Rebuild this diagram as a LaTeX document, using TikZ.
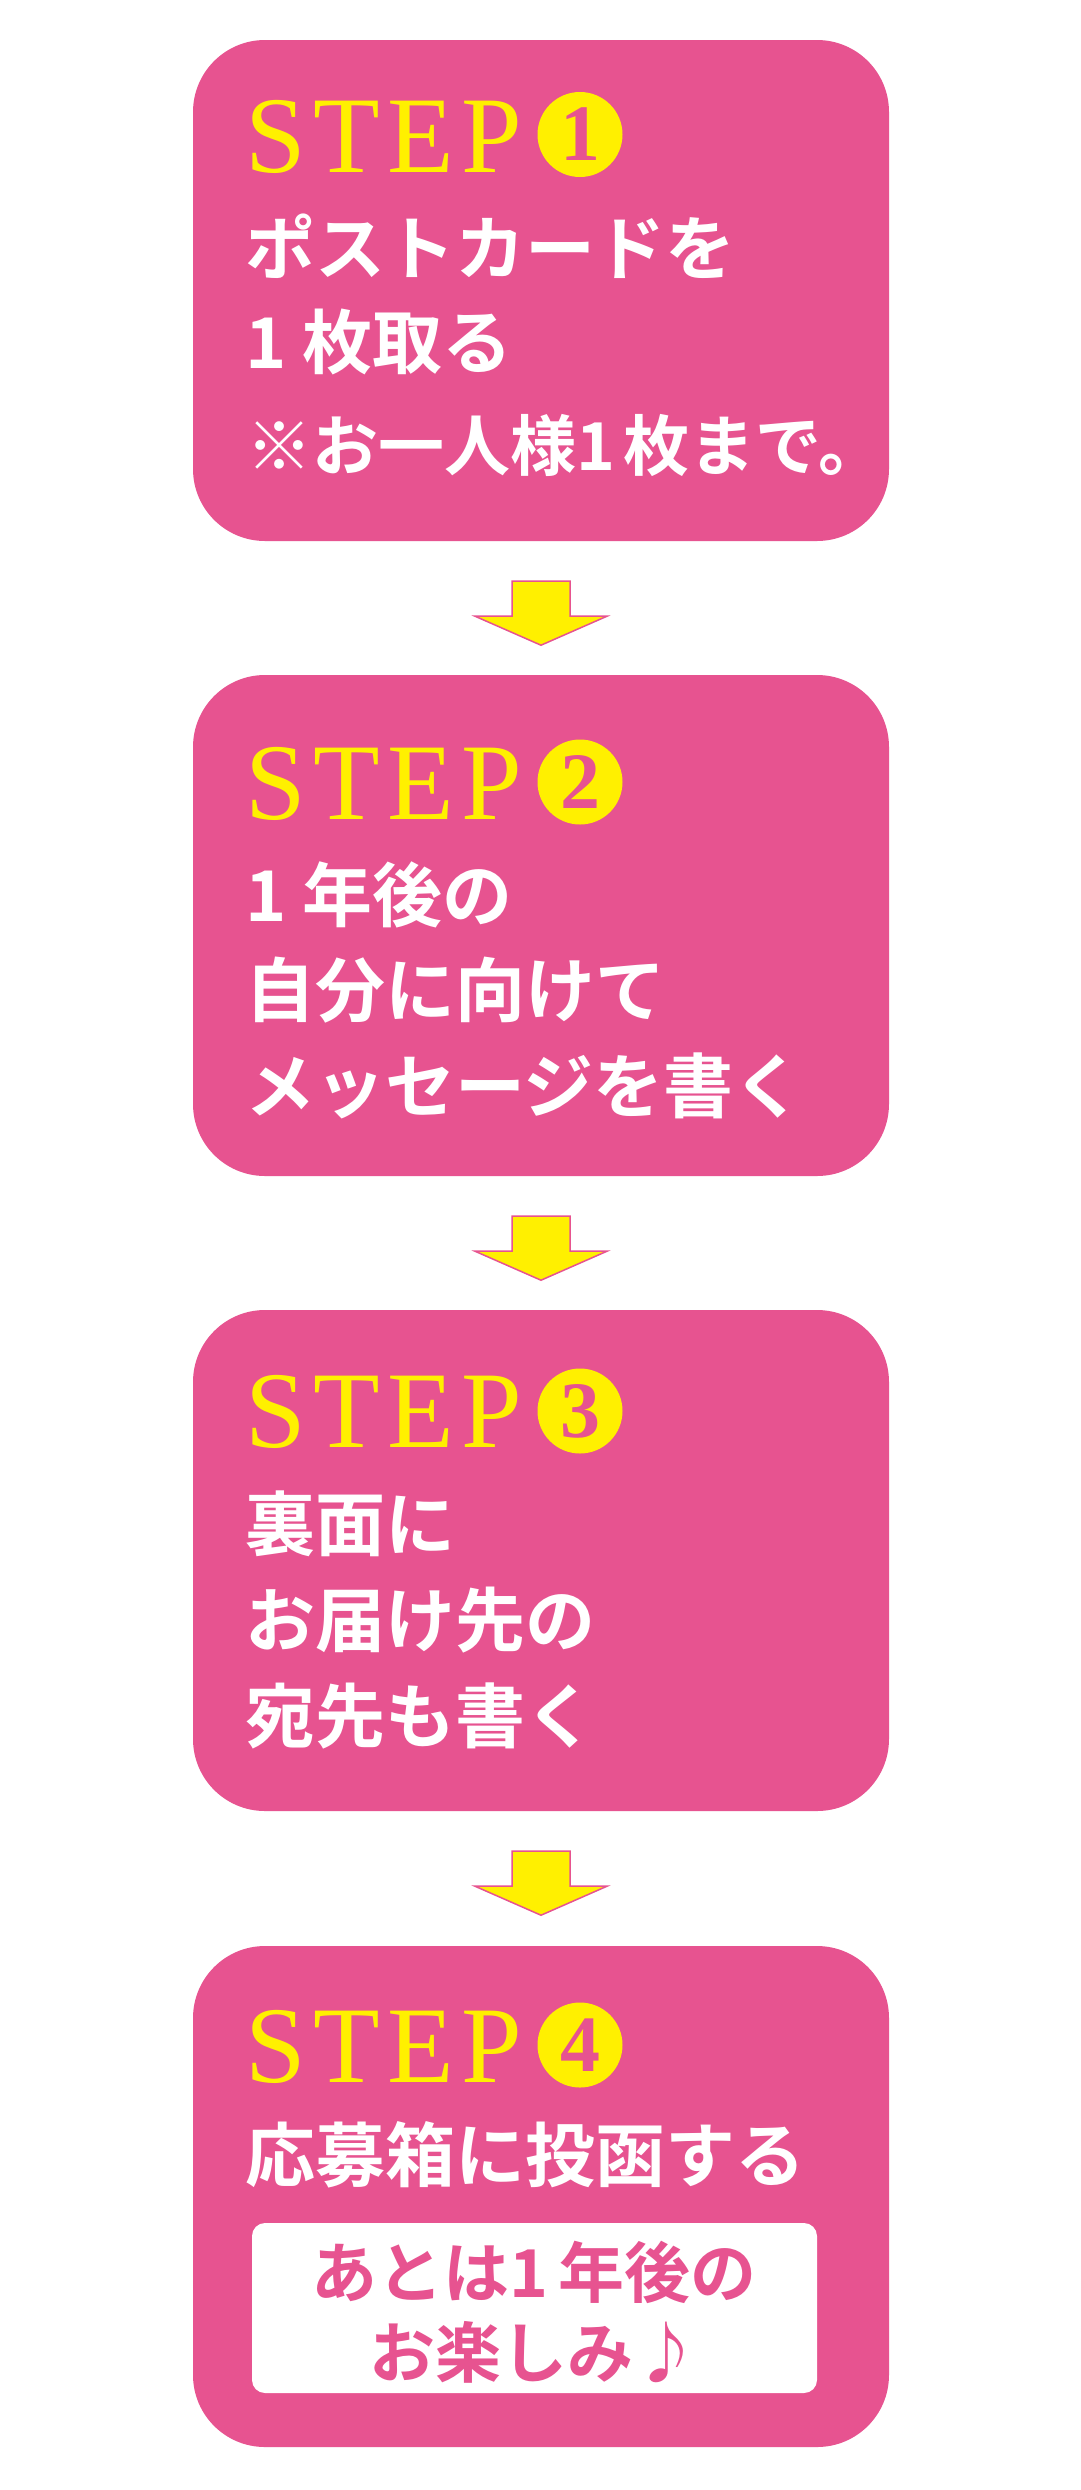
\documentclass[tikz,border=0pt]{standalone}
\usepackage{fontspec}
\newfontfamily\jpfont{Noto Sans CJK JP Bold}
\newfontfamily\stepfont{Liberation Serif}[LetterSpace=7]
\newfontfamily\numfont{Liberation Serif}
\definecolor{pk}{RGB}{231,83,144}
\definecolor{yl}{RGB}{255,240,0}
\tikzset{
  stepbox/.style={fill=pk, draw=none, rounded corners=72pt, minimum width=696pt, minimum height=501pt, inner sep=0pt},
  steplbl/.style={font=\stepfont\fontsize{109}{109}\selectfont, text=yl, inner sep=0pt, anchor=base west},
  numcirc/.style={circle, fill=yl, minimum size=85pt, inner sep=0pt, text=pk, font=\numfont\bfseries\fontsize{80}{80}\selectfont},
  jline/.style={font=\jpfont\fontsize{70}{70}\selectfont, text=white, anchor=west, inner sep=0pt},
  jnote/.style={font=\jpfont\fontsize{66}{66}\selectfont, text=white, anchor=west, inner sep=0pt},
  pline/.style={font=\jpfont\fontsize{66}{66}\selectfont, text=pk, inner sep=0pt},
  notebox/.style={fill=white, draw=none, rounded corners=13pt, minimum width=565pt, minimum height=170pt, inner sep=0pt},
  blockarr/.style={fill=yl, draw=pk, line width=1.5pt, line join=miter}
}
\begin{document}
\begin{tikzpicture}[x=1pt,y=-1pt]
\fill[white] (0,0) rectangle (1080,2490);
\path[use as bounding box] (0,0) rectangle (1080,2490);
% boxes
\node[stepbox] (b1) at (541,290.5) {};
\node[stepbox] (b2) at (541,925.5) {};
\node[stepbox] (b3) at (541,1560.5) {};
\node[stepbox] (b4) at (541,2196.5) {};
% step 1
\node[steplbl] (s1) at (245,172) {STEP};
\node[numcirc] (c1) at (580,134.5) {1};
\node[jline] (t11) at (245,246) {ポストカードを};
\node[jline] (t12) at (245,342) {1\kern16pt 枚取る};
\node[jnote] (t13) at (246,445) {※お一人様1\kern8pt 枚まで。};
% step 2
\node[steplbl] (s2) at (245,819) {STEP};
\node[numcirc] (c2) at (580,782) {2};
\node[jline] (t21) at (245,895) {1\kern16pt 年後の};
\node[jline] (t22) at (245,990) {自分に向けて};
\node[jline] (t23) at (245,1086) {メッセージを書く};
% step 3
\node[steplbl] (s3) at (245,1447) {STEP};
\node[numcirc] (c3) at (580,1411) {3};
\node[jline] (t31) at (245,1524) {裏面に};
\node[jline] (t32) at (245,1620) {お届け先の};
\node[jline] (t33) at (245,1716) {宛先も書く};
% step 4
\node[steplbl] (s4) at (245,2082) {STEP};
\node[numcirc] (c4) at (580,2045) {4};
\node[jline] (t41) at (245,2155) {応募箱に投函する};
\node[notebox] (w4) at (534.5,2308) {};
\node[pline] (p1) at (534,2272) {あとは1\kern10pt 年後の};
\node[pline] (p2) at (534,2352) {お楽しみ♪};
% arrows
\draw[blockarr, shift={(b1.south)}] (-29,40) -- (29,40) -- (29,75) -- (66,75) -- (0,104) -- (-66,75) -- (-29,75) -- cycle;
\draw[blockarr, shift={(b2.south)}] (-29,40) -- (29,40) -- (29,75) -- (66,75) -- (0,104) -- (-66,75) -- (-29,75) -- cycle;
\draw[blockarr, shift={(b3.south)}] (-29,40) -- (29,40) -- (29,75) -- (66,75) -- (0,104) -- (-66,75) -- (-29,75) -- cycle;
\end{tikzpicture}
\end{document}
